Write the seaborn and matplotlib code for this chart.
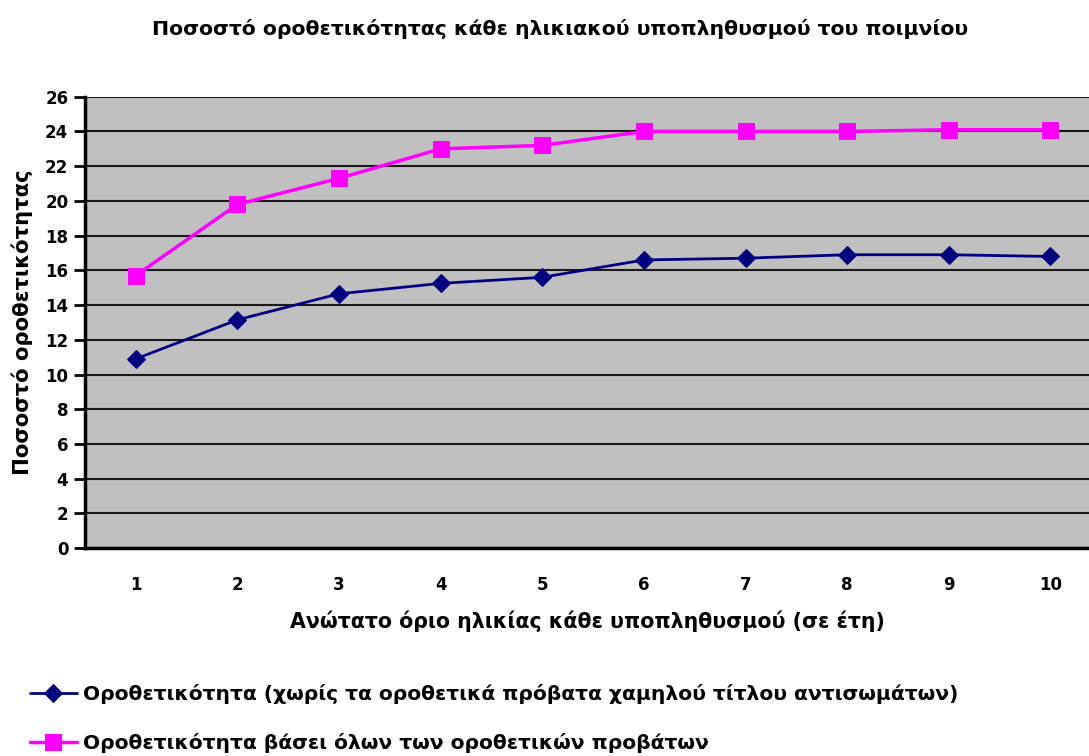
import pandas as pd
import matplotlib.pyplot as plt
import seaborn as sns

years = [1, 2, 3, 4, 5, 6, 7, 8, 9, 10]
low_titre_excluded = [10.9, 13.15, 14.65, 15.25, 15.6, 16.6, 16.7, 16.9, 16.9, 16.8]
all_positive = [15.7, 19.8, 21.3, 23.0, 23.2, 24.0, 24.0, 24.0, 24.1, 24.1]
labels = [
    "Οροθετικότητα (χωρίς τα οροθετικά πρόβατα χαμηλού τίτλου αντισωμάτων)",
    "Οροθετικότητα βάσει όλων των οροθετικών προβάτων",
]
yticks = list(range(0, 27, 2))

sns.set_style("white")
plt.rcParams["font.family"] = ["DejaVu Sans"]
plt.rcParams["font.weight"] = "bold"
plt.rcParams["text.color"] = "black"
plt.rcParams["axes.labelcolor"] = "black"
plt.rcParams["xtick.color"] = "black"
plt.rcParams["ytick.color"] = "black"

fig = plt.figure(figsize=(10.89, 7.56), dpi=100)
ax = fig.add_axes([0.078, 0.275, 0.922, 0.597])
ax.set_facecolor("#c0c0c0")

sns.lineplot(x=years, y=low_titre_excluded, ax=ax, color="#000080", marker="D",
             markersize=9, markeredgecolor="#000080", linewidth=2, label=labels[0])
sns.lineplot(x=years, y=all_positive, ax=ax, color="#ff00ff", marker="s",
             markersize=11, markeredgecolor="#ff00ff", linewidth=2.5, label=labels[1])

ax.set_xlim(0.5, 10.38)
ax.set_ylim(0, 26)
ax.set_yticks(yticks)
ax.set_xticks(years)
ax.yaxis.grid(True, color="#1a1a1a", linewidth=1.5)
ax.set_axisbelow(True)
for s in ["top", "right"]:
    ax.spines[s].set_visible(False)
for s in ["left", "bottom"]:
    ax.spines[s].set_linewidth(2.5)
    ax.spines[s].set_color("black")
ax.tick_params(axis="y", length=8, width=2, direction="out", labelsize=12, pad=4, left=True)
ax.tick_params(axis="x", length=0, labelsize=12, pad=20)
for t in ax.get_xticklabels() + ax.get_yticklabels():
    t.set_fontweight("bold")

ax.set_xlabel("Ανώτατο όριο ηλικίας κάθε υποπληθυσμού (σε έτη)", fontsize=14.8,
              fontweight="bold", labelpad=12)
ax.set_ylabel("Ποσοστό οροθετικότητας", fontsize=15.2, fontweight="bold", labelpad=9)
fig.suptitle("Ποσοστό οροθετικότητας κάθε ηλικιακού υποπληθυσμού του ποιμνίου",
             x=0.514, y=0.975, fontsize=14.7, fontweight="bold")

handles, lbls = ax.get_legend_handles_labels()
ax.get_legend().remove()
fig.legend(handles, lbls, loc="upper left", bbox_to_anchor=(0.02, 0.106),
           frameon=False, prop={"weight": "bold", "size": 14.6},
           handlelength=2.3, labelspacing=1.45, handletextpad=0.3, borderaxespad=0)

plt.savefig("out.png", dpi=100)
plt.close()
